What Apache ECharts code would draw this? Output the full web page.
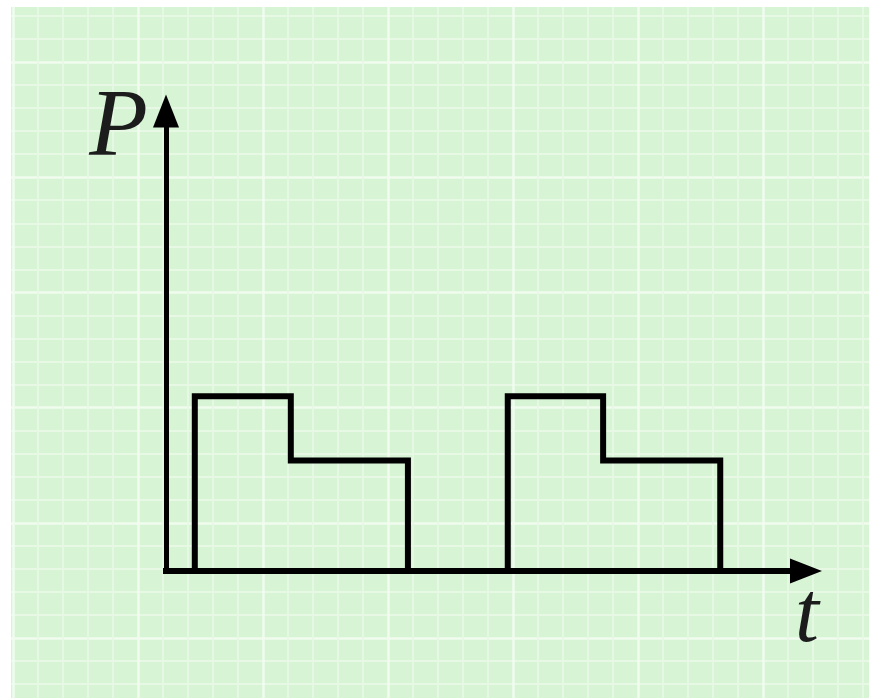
<!DOCTYPE html>
<html>
<head>
<meta charset="utf-8">
<script src="https://cdn.jsdelivr.net/npm/echarts@6/dist/echarts.min.js"></script>
<style>
  html, body { margin: 0; padding: 0; background: #fff; }
  /* The green sheet starts a few pixels in from the top left corner */
  #chart { position: absolute; left: 11px; top: 7px; width: 858px; height: 691px; }
</style>
</head>
<body>
<div id="chart"></div>
<script>
// Step power curve: two identical pulses (high level, then a lower level)
const stepTimes = [4.5, 4.5, 19.5, 37.8, 53.4, 68.3, 86.6];
const stepPower = [0, 38, 24, 0, 38, 24, 0];
const axisNames = { x: 't', y: 'P' };

const chart = echarts.init(document.getElementById('chart'));
const black = '#000';
const textColor = '#1c1c1c';
const curveWidth = 6;

window.addEventListener('resize', function () {
  chart.resize();
});

const curveData = stepTimes.map((t, i) => [t, stepPower[i]]);

const hiddenAxis = {
  axisLine: { show: false },
  axisTick: { show: false },
  axisLabel: { show: false }
};

// Graph paper: bright major lines, fainter minor lines in between
const paperLines = {
  splitLine: { show: true, lineStyle: { color: '#f1fcef', width: 2.5 } },
  minorTick: { show: false, splitNumber: 5 },
  minorSplitLine: { show: true, lineStyle: { color: '#e7f9e5', width: 1.8 } }
};

function arrowAxis(size, width) {
  return {
    show: true,
    symbol: ['none', 'triangle'],
    symbolSize: size,
    lineStyle: { color: black, width: width, cap: 'square' }
  };
}

chart.setOption({
  backgroundColor: 'transparent',
  animation: false,
  grid: [
    {
      // Bigger than the canvas so the paper lines fall on whole intervals
      left: -123,
      right: -144,
      top: -60.2,
      bottom: -55.2,
      outerBoundsMode: 'none',
      show: true,
      borderWidth: 0,
      backgroundColor: '#d7f4d5'
    },
    {
      left: 155,
      right: 63,
      top: 104,
      bottom: 127,
      outerBoundsMode: 'none'
    }
  ],
  xAxis: [
    Object.assign({ type: 'value', gridIndex: 0, min: 0, max: 1125, interval: 125 }, hiddenAxis, paperLines),
    Object.assign({ type: 'value', gridIndex: 1, min: 0, max: 100 }, hiddenAxis, {
      axisLine: arrowAxis([25, 32], 6),
      splitLine: { show: false }
    })
  ],
  yAxis: [
    Object.assign({ type: 'value', gridIndex: 0, min: 0, max: 7, interval: 1 }, hiddenAxis, paperLines),
    Object.assign({ type: 'value', gridIndex: 1, min: 0, max: 100 }, hiddenAxis, {
      axisLine: arrowAxis([26, 33], 5),
      splitLine: { show: false }
    })
  ],
  graphic: [
    {
      type: 'text',
      x: 137,
      y: 123,
      z: 100,
      silent: true,
      style: {
        text: axisNames.y,
        font: 'italic 96px "Liberation Serif"',
        fill: textColor,
        align: 'right',
        verticalAlign: 'middle'
      }
    },
    {
      type: 'text',
      x: 796,
      y: 611,
      z: 100,
      silent: true,
      style: {
        text: axisNames.x,
        font: 'italic 86px "Liberation Serif"',
        fill: textColor,
        align: 'center',
        verticalAlign: 'middle'
      }
    }
  ],
  series: [
    {
      type: 'line',
      xAxisIndex: 1,
      yAxisIndex: 1,
      data: curveData,
      step: 'end',
      clip: false,
      showSymbol: false,
      silent: true,
      lineStyle: { color: black, width: curveWidth, join: 'miter', cap: 'butt' }
    }
  ]
});
</script>
</body>
</html>
